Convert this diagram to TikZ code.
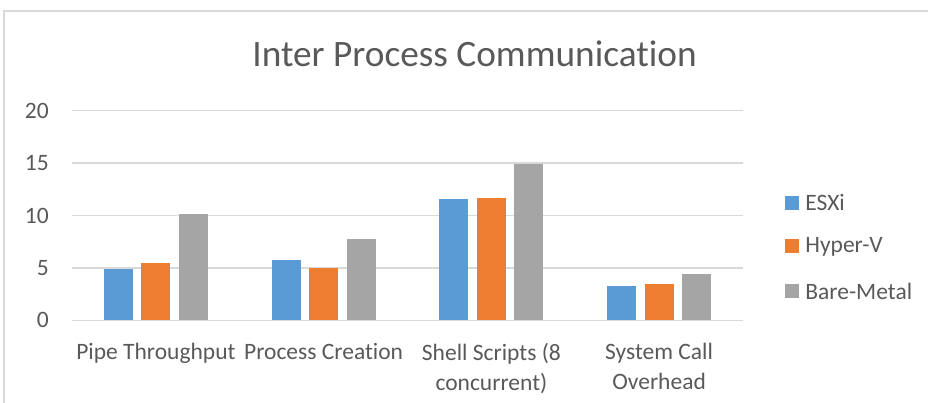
\documentclass[tikz,border=0pt]{standalone}
\usepackage{fontspec}
\setmainfont{Carlito}[Ligatures=NoCommon]
\usetikzlibrary{positioning}
\definecolor{esxi}{HTML}{5B9BD5}
\definecolor{hyperv}{HTML}{ED7D31}
\definecolor{baremetal}{HTML}{A5A5A5}
\definecolor{labeltext}{HTML}{595959}
\definecolor{gridgray}{HTML}{D9D9D9}

\begin{document}
\begin{tikzpicture}[x=1pt, y=1pt, every node/.style={text=labeltext, inner sep=0pt, font=\fontsize{23.5}{30}\selectfont},
  gridline/.style={gridgray, line width=1.5pt},
  ticklabel/.style={anchor=east},
  catlabel/.style={anchor=north, align=center},
  legendkey/.style={minimum size=14pt}]
\useasboundingbox (0,0) rectangle (928,403);
\draw[gridline] (4,0) -- (4,392) -- (928,392);
\node[anchor=base] (title) at (474.5,336) {\fontsize{37.3}{44}\selectfont Inter Process Communication};

% grid and value axis
\foreach \v [count=\k from 0] in {0,5,10,15,20} {
  \draw[gridline] (72,82.7+52.4*\k) -- (743,82.7+52.4*\k);
  \node[ticklabel] (tick\k) at (49,82.7+52.4*\k) {\v};
}

% bars
\foreach \i/\a/\b/\c in {0/4.9/5.5/10.1, 1/5.8/5.0/7.8, 2/11.6/11.7/14.9, 3/3.3/3.5/4.4} {
  \pgfmathsetmacro\cx{72+167.75*(\i+0.5)}
  \fill[esxi] (\cx-51.9,82.7) rectangle (\cx-22.9,82.7+10.48*\a);
  \fill[hyperv] (\cx-14.5,82.7) rectangle (\cx+14.5,82.7+10.48*\b);
  \fill[baremetal] (\cx+22.9,82.7) rectangle (\cx+51.9,82.7+10.48*\c);
}

% categories
\node[catlabel] (pipe) at (155.9,60) {Pipe Throughput};
\node[catlabel] (proc) at (323.6,60) {Process Creation};
\node[catlabel] (shell) at (491.4,60) {Shell Scripts (8\\concurrent)};
\node[catlabel] (syscall) at (659.1,60) {System Call\\Overhead};

% legend
\node[legendkey, fill=esxi] (keyA) at (792,200) {};
\node[right=6pt of keyA] (nameA) {ESXi};
\node[legendkey, fill=hyperv] (keyB) at (792,156.5) {};
\node[right=6pt of keyB] (nameB) {Hyper-V};
\node[legendkey, fill=baremetal] (keyC) at (792,111.5) {};
\node[right=6pt of keyC] (nameC) {Bare-Metal};
\end{tikzpicture}
\end{document}
